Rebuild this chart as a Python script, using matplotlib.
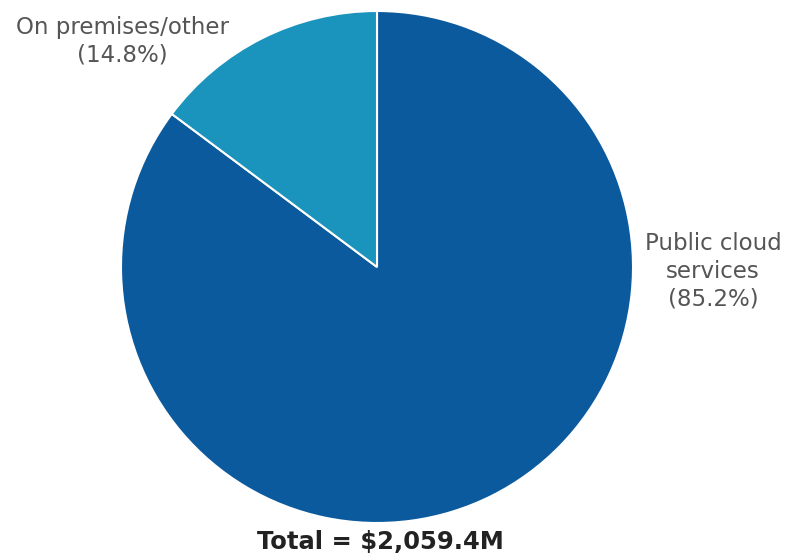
import matplotlib
matplotlib.use("Agg")
import matplotlib.pyplot as plt

plt.rcParams["font.family"] = ["DejaVu Sans"]

categories = ["Public cloud\nservices", "On premises/other"]
shares = [85.2, 14.8]
total_label = "Total = $2,059.4M"
colors = ["#0B5A9E", "#1A93BD"]

fig = plt.figure(figsize=(7.86, 5.58), dpi=100)
ax = fig.add_axes([0, 0, 1, 1])

ax.pie(shares, colors=colors, startangle=90, counterclock=False,
       center=(377, 291), radius=256, frame=True,
       wedgeprops=dict(edgecolor="white", linewidth=1.5))
ax.set_xlim(0, 786)
ax.set_ylim(0, 558)
ax.set_aspect("equal")
ax.axis("off")

tc = "#555555"
ax.text(122, 558 - 41, f"{categories[1]}\n({shares[1]}%)", ha="center", va="center",
        fontsize=16.5, color=tc, linespacing=1.25)
ax.text(713, 558 - 271, f"{categories[0]}\n({shares[0]}%)", ha="center", va="center",
        fontsize=16.5, color=tc, linespacing=1.25)
ax.text(380, 558 - 542, total_label, ha="center", va="center",
        fontsize=17.5, fontweight="bold", color="#222222")

fig.savefig("out.png", dpi=100)
